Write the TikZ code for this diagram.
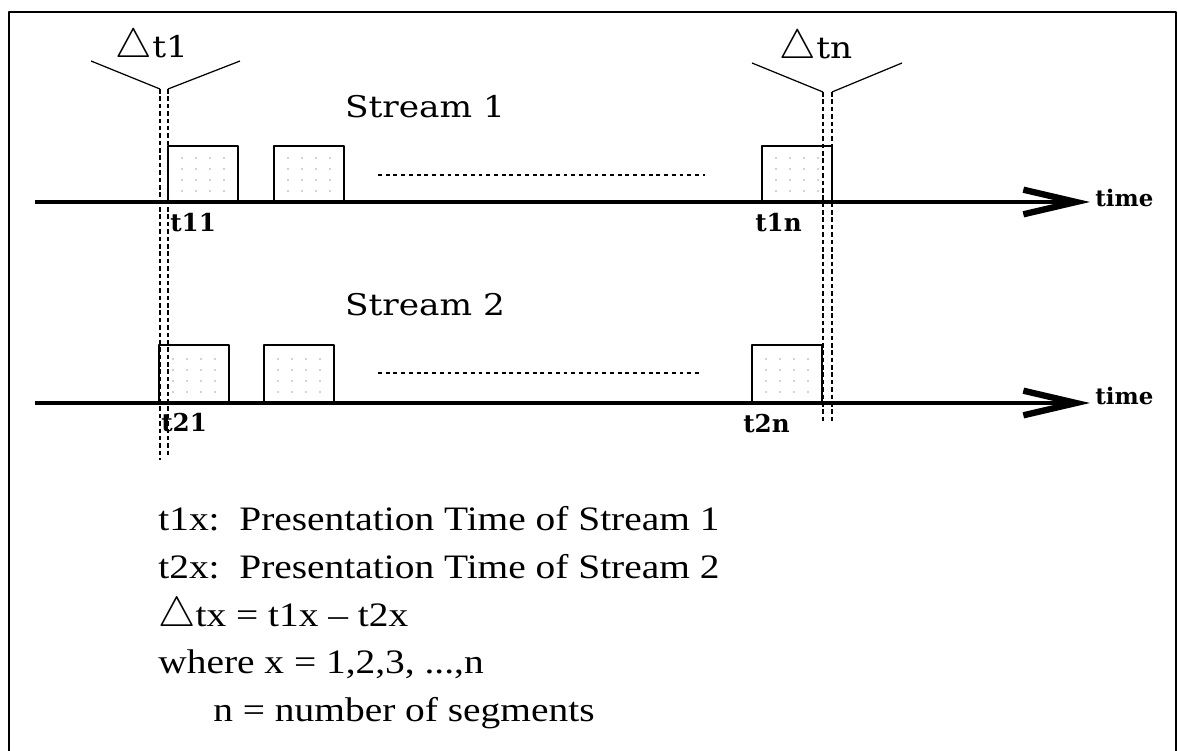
\documentclass[tikz,border=0pt]{standalone}
\usepackage{fontspec}
\setmainfont{Liberation Serif}
\newfontfamily\labelfont[FakeStretch=1.15]{DejaVu Serif}
\newfontfamily\tickfont{DejaVu Serif}
\newfontfamily\legendfont[FakeStretch=1.15]{Liberation Serif}
\usetikzlibrary{arrows.meta}

\tikzset{
  axis/.style={line width=2.4pt, -{Straight Barb[length=30pt,width=14pt,line width=3.6pt]}},
  seg/.style={line width=1.2pt},
  gap/.style={line width=1.3pt, dash pattern=on 2.6pt off 1.6pt},
  more/.style={line width=1.1pt, dash pattern=on 2.2pt off 2.2pt},
  vee/.style={line width=0.7pt},
  lbl/.style={font=\labelfont\fontsize{17}{19}\selectfont, inner sep=0pt},
  tick/.style={font=\tickfont\bfseries\fontsize{14}{16}\selectfont, inner sep=0pt},
  timelbl/.style={font=\tickfont\bfseries\fontsize{13}{15}\selectfont, inner sep=0pt},
  legend/.style={font=\legendfont\fontsize{19.5}{22}\selectfont, inner sep=0pt, anchor=base west},
}

% segment box: x, y of lower left corner, height
\newcommand{\segbox}[3]{%
  \draw[seg] (#1,#2) rectangle ++(70,-#3);
  \foreach \i in {1,...,4}{\foreach \j in {1,...,4}{%
    \fill[gray!70] (#1+14*\i,#2-11*\j) circle[radius=0.55pt];}}
}

\begin{document}
\begin{tikzpicture}[x=0.2mm, y=-0.2mm, line join=round]
  \useasboundingbox (0,0) rectangle (1178,750);
  \draw[line width=1pt] (9,760) -- (9,12) -- (1176,12) -- (1176,760);

  % stream 1
  \coordinate (s1start) at (35,202);
  \coordinate (s1end) at (1090,202);
  \node[timelbl, anchor=west] (time1) at (1095,198) {time};
  \draw[axis] (s1start) -- (s1end);
  \node[lbl] (stream1) at (425,107) {Stream 1};
  \segbox{168}{202}{56}
  \segbox{274}{202}{56}
  \segbox{762}{202}{56}
  \draw[more] (378,175) -- (705,175);
  \node[tick, anchor=north west] (t11) at (170,213) {t11};
  \node[tick, anchor=north west] (t1n) at (755,213) {t1n};

  % stream 2
  \coordinate (s2start) at (35,403);
  \coordinate (s2end) at (1090,403);
  \node[timelbl, anchor=west] (time2) at (1095,396) {time};
  \draw[axis] (s2start) -- (s2end);
  \node[lbl] (stream2) at (425,305) {Stream 2};
  \segbox{159}{403}{58}
  \segbox{264}{403}{58}
  \segbox{752}{403}{58}
  \draw[more] (378,373) -- (700,373);
  \node[tick, anchor=north west] (t21) at (161,413) {t21};
  \node[tick, anchor=north west] (t2n) at (743,414) {t2n};

  % first offset
  \coordinate (d1l) at (91,61);
  \coordinate (d1a) at (160,89);
  \coordinate (d1b) at (168,89);
  \coordinate (d1r) at (240,61);
  \node[lbl] (dt1) at (152,47) {\scalebox{1.35}{$\bigtriangleup$}t1};
  \draw[vee] (d1l) -- (d1a)  (d1b) -- (d1r);
  \draw[gap] (d1a) -- (160,460)  (d1b) -- (168,455);

  % last offset
  \coordinate (dnl) at (752,63);
  \coordinate (dna) at (823,92);
  \coordinate (dnb) at (832,92);
  \coordinate (dnr) at (902,63);
  \node[lbl] (dtn) at (816,48) {\scalebox{1.35}{$\bigtriangleup$}tn};
  \draw[vee] (dnl) -- (dna)  (dnb) -- (dnr);
  \draw[gap] (dna) -- (823,422)  (dnb) -- (832,422);

  % legend
  \node[legend] (leg1) at (158,530) {t1x:\ \ Presentation Time of Stream 1};
  \node[legend] (leg2) at (158,578) {t2x:\ \ Presentation Time of Stream 2};
  \node[legend] (leg3) at (158,626) {\scalebox{1.15}{$\bigtriangleup$}tx = t1x \textendash\ t2x};
  \node[legend] (leg4) at (158,673) {where x = 1,2,3, ...,n};
  \node[legend] (leg5) at (213,721) {n = number of segments};
\end{tikzpicture}
\end{document}
